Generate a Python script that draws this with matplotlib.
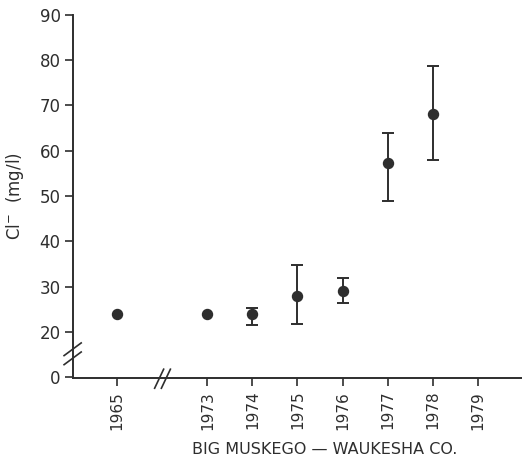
import matplotlib
matplotlib.use("Agg")
import matplotlib.pyplot as plt

# data
years = ["1965", "1973", "1974", "1975", "1976", "1977", "1978", "1979"]
positions = [0, 2, 3, 4, 5, 6, 7, 8]
pt_years = [0, 2, 3, 4, 5, 6, 7]
cl_mean = [24.0, 24.0, 24.0, 28.0, 29.1, 57.2, 68.2]
cl_low = [24.0, 24.0, 21.6, 21.8, 26.5, 49.0, 58.0]
cl_high = [24.0, 24.0, 25.4, 34.8, 31.9, 64.0, 78.6]
ytick_vals = [10, 20, 30, 40, 50, 60, 70, 80, 90]
ytick_labels = ["0", "20", "30", "40", "50", "60", "70", "80", "90"]

ink = "#2e2e2e"
plt.rcParams["font.family"] = "DejaVu Sans"

fig = plt.figure(figsize=(5.22, 4.63), dpi=100, facecolor="w")
ax = fig.add_axes([0.14, 0.183, 0.87, 0.785])

# only the years with a spread get error bars
has_err = [i for i in range(len(pt_years)) if cl_high[i] > cl_low[i]]
ax.errorbar([pt_years[i] for i in has_err], [cl_mean[i] for i in has_err],
            yerr=[[cl_mean[i] - cl_low[i] for i in has_err],
                  [cl_high[i] - cl_mean[i] for i in has_err]],
            fmt="none", ecolor=ink, elinewidth=1.4, capsize=4, capthick=1.4)
ax.plot(pt_years, cl_mean, "o", color=ink, ms=7.2, zorder=3)

ax.set_xlim(-0.98, 9.1)
ax.set_ylim(9.8, 90)
ax.set_xticks(positions)
ax.set_xticklabels(years, rotation=90, fontsize=11, color=ink)
ax.set_yticks(ytick_vals)
ax.set_yticklabels(ytick_labels, fontsize=12, color=ink)
ax.tick_params(direction="out", length=6, width=1.2, color=ink, pad=3)

for side in ["top", "right"]:
    ax.spines[side].set_visible(False)
for side in ["left", "bottom"]:
    ax.spines[side].set_color(ink)
    ax.spines[side].set_linewidth(1.4)

# axis break marks
kw = dict(color=ink, lw=1.2, clip_on=False, transform=ax.transData)
ax.plot([-1.18, -0.80], [12.8, 15.6], **kw)
ax.plot([-1.18, -0.80], [14.8, 17.6], **kw)
ax.plot([0.83, 1.03], [7.6, 11.8], **kw)
ax.plot([0.98, 1.18], [7.6, 11.8], **kw)

ax.set_ylabel("Cl$^{-}$  (mg/l)", fontsize=12, color=ink, labelpad=10)
ax.set_xlabel("BIG MUSKEGO \u2014 WAUKESHA CO.", fontsize=11.5, color=ink)
ax.xaxis.set_label_coords(0.555, -0.175)

fig.savefig("out.png", dpi=100, facecolor="w")
